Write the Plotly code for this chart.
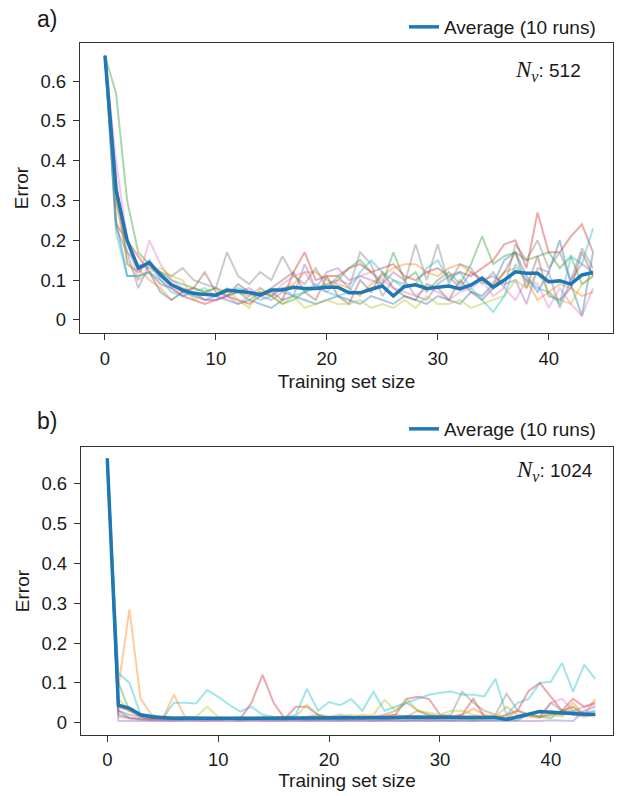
import plotly.graph_objects as go

W, H = 621, 796

training_size = list(range(45))
run_colors = ["#1f77b4", "#ff7f0e", "#2ca02c", "#d62728", "#9467bd",
              "#8c564b", "#e377c2", "#7f7f7f", "#bcbd22", "#17becf"]
y_tick_vals = [0, 0.1, 0.2, 0.3, 0.4, 0.5, 0.6]
y_tick_text = ["0", "0.1", "0.2", "0.3", "0.4", "0.5", "0.6"]
x_tick_vals = [0, 10, 20, 30, 40]

# ---------------- panel a) N_v = 512 ----------------
a_avg = [0.664, 0.327, 0.20, 0.13, 0.144, 0.113, 0.088, 0.075, 0.066, 0.065, 0.062,
         0.075, 0.073, 0.069, 0.063, 0.075, 0.075, 0.082, 0.079, 0.079, 0.082, 0.082,
         0.068, 0.068, 0.077, 0.085, 0.06, 0.084, 0.088, 0.079, 0.082, 0.085, 0.078,
         0.088, 0.105, 0.082, 0.10, 0.121, 0.117, 0.117, 0.096, 0.098, 0.09, 0.113, 0.119]
a_run0 = [0.664, 0.25, 0.11, 0.11, 0.12, 0.07, 0.05, 0.07, 0.06, 0.05, 0.06, 0.05, 0.04, 0.05, 0.04,
          0.03, 0.05, 0.06, 0.05, 0.04, 0.05, 0.06, 0.05, 0.04, 0.06, 0.05, 0.04, 0.06, 0.05, 0.04,
          0.06, 0.05, 0.04, 0.07, 0.06, 0.09, 0.15, 0.17, 0.11, 0.07, 0.12, 0.20, 0.09, 0.01, 0.17]
a_run1 = [0.664, 0.30, 0.20, 0.13, 0.10, 0.08, 0.05, 0.07, 0.08, 0.07, 0.08, 0.07, 0.07, 0.06, 0.07,
          0.06, 0.08, 0.09, 0.12, 0.12, 0.10, 0.09, 0.08, 0.06, 0.09, 0.11, 0.13, 0.14, 0.14, 0.12,
          0.11, 0.13, 0.14, 0.12, 0.10, 0.09, 0.12, 0.13, 0.10, 0.05, 0.07, 0.09, 0.08, 0.06, 0.07]
a_run2 = [0.664, 0.57, 0.30, 0.17, 0.14, 0.12, 0.10, 0.09, 0.08, 0.07, 0.08, 0.06, 0.07, 0.05, 0.07,
          0.06, 0.04, 0.05, 0.07, 0.08, 0.09, 0.10, 0.13, 0.15, 0.12, 0.09, 0.17, 0.10, 0.12, 0.07,
          0.10, 0.12, 0.09, 0.14, 0.21, 0.14, 0.16, 0.17, 0.15, 0.16, 0.17, 0.13, 0.16, 0.09, 0.11]
a_run3 = [0.664, 0.24, 0.20, 0.16, 0.12, 0.09, 0.08, 0.06, 0.05, 0.04, 0.05, 0.06, 0.05, 0.04, 0.06,
          0.07, 0.05, 0.12, 0.17, 0.10, 0.11, 0.11, 0.13, 0.14, 0.12, 0.13, 0.14, 0.11, 0.10, 0.12,
          0.13, 0.11, 0.12, 0.11, 0.13, 0.15, 0.19, 0.20, 0.13, 0.27, 0.17, 0.17, 0.21, 0.24, 0.17]
a_run4 = [0.664, 0.30, 0.17, 0.08, 0.14, 0.10, 0.08, 0.06, 0.07, 0.05, 0.05, 0.06, 0.07, 0.08, 0.06,
          0.05, 0.07, 0.06, 0.14, 0.08, 0.12, 0.13, 0.10, 0.11, 0.10, 0.09, 0.12, 0.10, 0.06, 0.05,
          0.09, 0.11, 0.08, 0.12, 0.10, 0.11, 0.09, 0.10, 0.04, 0.13, 0.12, 0.03, 0.10, 0.14, 0.12]
a_run5 = [0.664, 0.35, 0.14, 0.12, 0.15, 0.11, 0.09, 0.07, 0.08, 0.12, 0.07, 0.06, 0.09, 0.07, 0.06,
          0.08, 0.10, 0.12, 0.07, 0.05, 0.11, 0.06, 0.04, 0.10, 0.07, 0.12, 0.08, 0.06, 0.05, 0.09,
          0.08, 0.05, 0.10, 0.07, 0.05, 0.08, 0.12, 0.17, 0.08, 0.16, 0.06, 0.05, 0.08, 0.17, 0.11]
a_run6 = [0.664, 0.40, 0.20, 0.10, 0.20, 0.14, 0.10, 0.08, 0.07, 0.05, 0.05, 0.06, 0.04, 0.06, 0.08,
          0.06, 0.09, 0.11, 0.12, 0.08, 0.07, 0.10, 0.09, 0.11, 0.12, 0.10, 0.08, 0.07, 0.06, 0.08,
          0.07, 0.05, 0.07, 0.08, 0.10, 0.06, 0.08, 0.05, 0.10, 0.09, 0.03, 0.08, 0.04, 0.01, 0.08]
a_run7 = [0.664, 0.23, 0.17, 0.14, 0.13, 0.12, 0.11, 0.13, 0.10, 0.09, 0.08, 0.17, 0.11, 0.09, 0.12,
          0.10, 0.16, 0.11, 0.09, 0.13, 0.08, 0.11, 0.08, 0.17, 0.14, 0.06, 0.10, 0.09, 0.19, 0.10,
          0.19, 0.09, 0.14, 0.13, 0.09, 0.12, 0.08, 0.19, 0.15, 0.20, 0.13, 0.17, 0.10, 0.18, 0.13]
a_run8 = [0.664, 0.30, 0.15, 0.10, 0.12, 0.13, 0.11, 0.10, 0.05, 0.07, 0.06, 0.08, 0.05, 0.03, 0.08,
          0.06, 0.04, 0.06, 0.03, 0.04, 0.05, 0.04, 0.04, 0.05, 0.03, 0.04, 0.03, 0.05, 0.03, 0.06,
          0.04, 0.04, 0.05, 0.03, 0.04, 0.05, 0.06, 0.10, 0.08, 0.12, 0.07, 0.05, 0.04, 0.09, 0.11]
a_run9 = [0.664, 0.22, 0.11, 0.11, 0.12, 0.10, 0.07, 0.06, 0.07, 0.08, 0.06, 0.07, 0.08, 0.07, 0.05,
          0.06, 0.08, 0.06, 0.07, 0.09, 0.07, 0.06, 0.07, 0.12, 0.15, 0.12, 0.10, 0.08, 0.09, 0.13,
          0.15, 0.10, 0.12, 0.08, 0.05, 0.02, 0.06, 0.14, 0.10, 0.08, 0.07, 0.04, 0.16, 0.14, 0.23]

# ---------------- panel b) N_v = 1024 ----------------
b_avg = [0.664, 0.044, 0.036, 0.02, 0.015, 0.013, 0.011, 0.012, 0.011, 0.011, 0.011, 0.011,
         0.011, 0.012, 0.012, 0.011, 0.012, 0.011, 0.011, 0.011, 0.012, 0.011, 0.012, 0.012,
         0.012, 0.012, 0.013, 0.014, 0.014, 0.013, 0.013, 0.012, 0.013, 0.013, 0.014, 0.013,
         0.008, 0.015, 0.02, 0.028, 0.026, 0.024, 0.021, 0.021, 0.021]
b_run0 = [0.664, 0.03, 0.012, 0.008, 0.006, 0.005, 0.005, 0.006, 0.005, 0.005, 0.006, 0.005,
          0.005, 0.006, 0.005, 0.005, 0.006, 0.005, 0.005, 0.006, 0.005, 0.005, 0.006, 0.005,
          0.005, 0.006, 0.005, 0.005, 0.006, 0.005, 0.006, 0.005, 0.006, 0.005, 0.006, 0.006,
          0.005, 0.006, 0.02, 0.03, 0.025, 0.02, 0.03, 0.025, 0.03]
b_run1 = [0.664, 0.09, 0.285, 0.06, 0.02, 0.01, 0.07, 0.015, 0.01, 0.012, 0.01, 0.01, 0.012,
          0.01, 0.01, 0.012, 0.015, 0.012, 0.01, 0.015, 0.012, 0.01, 0.012, 0.02, 0.015, 0.018,
          0.02, 0.015, 0.03, 0.018, 0.015, 0.012, 0.02, 0.035, 0.02, 0.015, 0.04, 0.02, 0.015,
          0.012, 0.03, 0.02, 0.05, 0.02, 0.06]
b_run2 = [0.664, 0.10, 0.03, 0.02, 0.012, 0.01, 0.008, 0.008, 0.01, 0.008, 0.008, 0.01, 0.008,
          0.008, 0.01, 0.008, 0.008, 0.01, 0.008, 0.008, 0.01, 0.008, 0.008, 0.01, 0.008, 0.008,
          0.01, 0.008, 0.008, 0.01, 0.008, 0.008, 0.01, 0.008, 0.01, 0.012, 0.01, 0.012, 0.02,
          0.015, 0.012, 0.03, 0.025, 0.02, 0.02]
b_run3 = [0.664, 0.04, 0.03, 0.015, 0.01, 0.008, 0.01, 0.012, 0.01, 0.01, 0.01, 0.012, 0.01,
          0.05, 0.12, 0.05, 0.01, 0.04, 0.04, 0.02, 0.01, 0.012, 0.015, 0.01, 0.012, 0.015, 0.02,
          0.06, 0.065, 0.06, 0.02, 0.015, 0.02, 0.06, 0.015, 0.012, 0.02, 0.03, 0.08, 0.10, 0.065,
          0.03, 0.06, 0.04, 0.05]
b_run4 = [0.664, 0.005, 0.004, 0.004, 0.004, 0.005, 0.004, 0.004, 0.005, 0.004, 0.004,
          0.005, 0.004, 0.004, 0.005, 0.004, 0.004, 0.005, 0.004, 0.004, 0.005, 0.004,
          0.004, 0.005, 0.004, 0.004, 0.005, 0.004, 0.004, 0.005, 0.004, 0.004, 0.005,
          0.004, 0.004, 0.005, 0.004, 0.004, 0.005, 0.004, 0.006, 0.005, 0.004, 0.03, 0.04]
b_run5 = [0.664, 0.02, 0.012, 0.01, 0.008, 0.01, 0.008, 0.01, 0.008, 0.01, 0.008,
          0.01, 0.008, 0.01, 0.008, 0.01, 0.008, 0.01, 0.008, 0.01, 0.012, 0.01,
          0.012, 0.01, 0.012, 0.01, 0.012, 0.015, 0.012, 0.01, 0.012, 0.015, 0.012,
          0.01, 0.015, 0.012, 0.01, 0.015, 0.02, 0.015, 0.02, 0.03, 0.04, 0.02, 0.02]
b_run6 = [0.664, 0.015, 0.01, 0.008, 0.006, 0.008, 0.006, 0.008, 0.006, 0.008, 0.006,
          0.008, 0.006, 0.008, 0.006, 0.008, 0.006, 0.008, 0.006, 0.008, 0.006, 0.008,
          0.006, 0.008, 0.006, 0.008, 0.006, 0.008, 0.006, 0.008, 0.01, 0.008, 0.01,
          0.012, 0.01, 0.015, 0.012, 0.03, 0.02, 0.015, 0.05, 0.06, 0.03, 0.04, 0.045]
b_run7 = [0.664, 0.03, 0.02, 0.015, 0.01, 0.012, 0.01, 0.012, 0.01, 0.012, 0.01,
          0.012, 0.01, 0.012, 0.01, 0.012, 0.01, 0.012, 0.015, 0.02, 0.015, 0.02,
          0.015, 0.012, 0.015, 0.02, 0.03, 0.05, 0.03, 0.02, 0.015, 0.02, 0.078,
          0.05, 0.03, 0.02, 0.073, 0.03, 0.02, 0.015, 0.05, 0.03, 0.02, 0.015, 0.02]
b_run8 = [0.664, 0.06, 0.03, 0.02, 0.015, 0.012, 0.015, 0.012, 0.015, 0.04, 0.015,
          0.012, 0.015, 0.012, 0.015, 0.012, 0.015, 0.015, 0.045, 0.02, 0.012, 0.015,
          0.02, 0.015, 0.02, 0.057, 0.03, 0.06, 0.03, 0.025, 0.02, 0.03, 0.03,
          0.02, 0.015, 0.02, 0.015, 0.03, 0.02, 0.015, 0.02, 0.015, 0.04, 0.02, 0.015]
b_run9 = [0.664, 0.125, 0.10, 0.02, 0.02, 0.01, 0.05, 0.05, 0.048, 0.082, 0.065, 0.045,
          0.028, 0.04, 0.02, 0.015, 0.012, 0.02, 0.085, 0.03, 0.052, 0.044, 0.059, 0.03,
          0.078, 0.03, 0.04, 0.05, 0.06, 0.07, 0.075, 0.078, 0.07, 0.07, 0.066, 0.11, 0.02,
          0.05, 0.06, 0.10, 0.103, 0.15, 0.078, 0.145, 0.11]

a_runs = [a_run0, a_run1, a_run2, a_run3, a_run4, a_run5, a_run6, a_run7, a_run8, a_run9]
b_runs = [b_run0, b_run1, b_run2, b_run3, b_run4, b_run5, b_run6, b_run7, b_run8, b_run9]
for r in a_runs + b_runs + [a_avg, b_avg]:
    assert len(r) == len(training_size), len(r)

FONT = "Liberation Sans, Arial, sans-serif"
TXT = "#1a1a1a"
FS = 19
TICK_FS = 18.5

fig = go.Figure()
for panel, runs, avg, xa, ya, lg in (("a", a_runs, a_avg, "x", "y", "legend"),
                                     ("b", b_runs, b_avg, "x2", "y2", "legend2")):
    for c, run in zip(run_colors, runs):
        fig.add_trace(go.Scatter(x=training_size, y=run, mode="lines",
                                 line=dict(color=c, width=2), opacity=0.4,
                                 showlegend=False, xaxis=xa, yaxis=ya, hoverinfo="skip"))
    fig.add_trace(go.Scatter(x=training_size, y=avg, mode="lines",
                             line=dict(color="#1f77b4", width=3.5),
                             name="Average (10 runs)", showlegend=True, legend=lg,
                             xaxis=xa, yaxis=ya))


def px(x):
    return x / W


def py(y):
    return 1 - y / H


axis_common = dict(showline=True, mirror=True, linecolor="#333333", linewidth=1.3,
                   ticks="outside", ticklen=6, tickwidth=1.3, tickcolor="#333333",
                   showgrid=False, zeroline=False, automargin=False,
                   tickfont=dict(family=FONT, size=TICK_FS, color=TXT))

fig.update_layout(
    width=W, height=H,
    margin=dict(l=0, r=0, t=0, b=0, autoexpand=False),
    paper_bgcolor="white", plot_bgcolor="white",
    font=dict(family=FONT, size=FS, color=TXT),
    xaxis=dict(domain=[px(80), px(613)], anchor="y", range=[-2.25, 45.8],
               tickvals=x_tick_vals, ticklabelstandoff=3,
               title=dict(text="Training set size", standoff=6,
                          font=dict(family=FONT, size=FS, color=TXT)), **axis_common),
    yaxis=dict(domain=[py(333), py(43)], anchor="x", range=[-0.033, 0.696],
               tickvals=y_tick_vals, ticktext=y_tick_text, ticklabelstandoff=3,
               title=dict(text="Error", standoff=6,
                          font=dict(family=FONT, size=FS, color=TXT)), **axis_common),
    xaxis2=dict(domain=[px(81), px(613)], anchor="y2", range=[-2.37, 45.6],
                tickvals=x_tick_vals, ticklabelstandoff=2,
                title=dict(text="Training set size", standoff=3,
                           font=dict(family=FONT, size=FS, color=TXT)), **axis_common),
    yaxis2=dict(domain=[py(735), py(447)], anchor="x2", range=[-0.031, 0.693],
                tickvals=y_tick_vals, ticktext=y_tick_text, ticklabelstandoff=3,
                title=dict(text="Error", standoff=6,
                           font=dict(family=FONT, size=FS, color=TXT)), **axis_common),
    legend=dict(x=px(601), xanchor="right", y=py(27), yanchor="middle",
                bgcolor="rgba(0,0,0,0)", borderwidth=0, itemwidth=30,
                font=dict(family=FONT, size=FS, color=TXT)),
    legend2=dict(x=px(601), xanchor="right", y=py(429), yanchor="middle",
                 bgcolor="rgba(0,0,0,0)", borderwidth=0, itemwidth=30,
                 font=dict(family=FONT, size=FS, color=TXT)),
)

nv = ("<span style='font-family:Liberation Serif;font-size:23px'><i>N</i>"
      "<sub><i>ν</i></sub></span>: ")
annotations = [
    dict(text="a)", x=px(47), y=py(19), xref="paper", yref="paper", showarrow=False,
         xanchor="center", yanchor="middle", font=dict(family=FONT, size=23, color=TXT)),
    dict(text="b)", x=px(47), y=py(421), xref="paper", yref="paper", showarrow=False,
         xanchor="center", yanchor="middle", font=dict(family=FONT, size=23, color=TXT)),
    dict(text=nv + "512", x=px(583), y=py(71), xref="paper", yref="paper",
         xanchor="right", yanchor="middle", showarrow=False,
         font=dict(family=FONT, size=FS, color=TXT)),
    dict(text=nv + "1024", x=px(595), y=py(471), xref="paper", yref="paper",
         xanchor="right", yanchor="middle", showarrow=False,
         font=dict(family=FONT, size=FS, color=TXT)),
]
fig.update_layout(annotations=annotations)

fig.write_html("out.html", config={"displayModeBar": False},
               post_script="document.body.style.margin='0';")
